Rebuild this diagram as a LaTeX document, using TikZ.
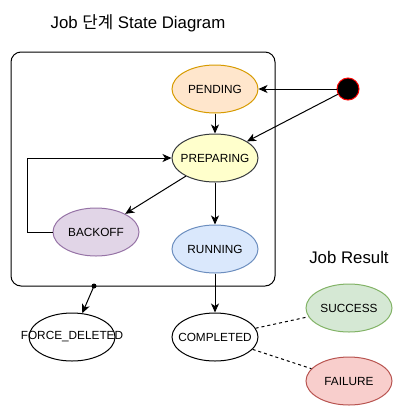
\documentclass[tikz,border=0pt]{standalone}
\usepackage{fontspec}
\setmainfont{Liberation Sans}
\newfontfamily\krfont{Noto Sans CJK KR}
\usetikzlibrary{arrows.meta,shapes.geometric}
\definecolor{pendfill}{HTML}{FFE6CC}
\definecolor{penddraw}{HTML}{D79B00}
\definecolor{prepfill}{HTML}{FFFFCC}
\definecolor{prepdraw}{HTML}{36393D}
\definecolor{backfill}{HTML}{E1D5E7}
\definecolor{backdraw}{HTML}{9673A6}
\definecolor{runfill}{HTML}{DAE8FC}
\definecolor{rundraw}{HTML}{6C8EBF}
\definecolor{succfill}{HTML}{D5E8D4}
\definecolor{succdraw}{HTML}{82B366}
\definecolor{failfill}{HTML}{F8CECC}
\definecolor{faildraw}{HTML}{B85450}

\begin{document}
\begin{tikzpicture}[->,>={Stealth[length=9pt,width=8pt,inset=2.5pt]},x=1pt,y=1pt,
                    line width=1pt,node distance=69pt,font=\fontsize{11.8}{14}\selectfont]
  \tikzstyle{state}=[ellipse,draw=black,fill=white,minimum width=86pt,minimum height=48pt,inner sep=0pt]
  \tikzstyle{start}=[circle,draw=red,fill=black,minimum size=22pt,inner sep=0pt]
  \tikzstyle{result}=[-,dash pattern=on 3pt off 3pt]
  \useasboundingbox (0,0) rectangle (417,-416);

  \node[font=\fontsize{16.8}{20}\selectfont] (title) at (138,-23) {Job {\krfont 단계} State Diagram};
  \node[draw,rounded corners=10pt,minimum width=264pt,minimum height=234pt] (jobbox) at (143,-169) {};
  \coordinate (fdot) at (94,-286);

  \node[state,fill=pendfill,draw=penddraw,label=center:PENDING] (PEN) at (215,-89) {};
  \node[start] (S)      [right of=PEN,node distance=133pt] {};
  \node[state,fill=prepfill,draw=prepdraw,label=center:PREPARING] (PRE) [below of=PEN] {};
  \node[state,fill=runfill,draw=rundraw,label=center:RUNNING] (RUN) [below of=PRE,node distance=91pt] {};
  \node[state,fill=backfill,draw=backdraw,label=center:BACKOFF] (BAC) at (96,-232) {};
  \node[state,label=center:COMPLETED] (COM) [below of=RUN,node distance=88pt] {};
  \node[state,label=center:FORCE\_DELETED] (FD) [left of=COM,node distance=143pt] {};
  \node[state,fill=succfill,draw=succdraw,label=center:SUCCESS] (SUC) at (349,-308) {};
  \node[state,fill=failfill,draw=faildraw,label=center:FAILURE] (FAI) [below of=SUC,node distance=73pt] {};
  \node[font=\fontsize{16.8}{20}\selectfont] (jr) [above of=SUC,node distance=51pt] {Job Result};

  \path (S) edge (PEN)
        (S) edge (PRE)
        (PEN) edge (PRE)
        (PRE) edge (BAC)
        (PRE) edge (RUN)
        (RUN) edge (COM)
        (fdot) edge (FD)
        (COM) edge[result] (SUC)
        (COM) edge[result] (FAI);
  \draw (BAC.west) -- ++(-25,0) |- (PRE.west);
  \fill[-] (fdot) circle (2.5pt);
\end{tikzpicture}
\end{document}
